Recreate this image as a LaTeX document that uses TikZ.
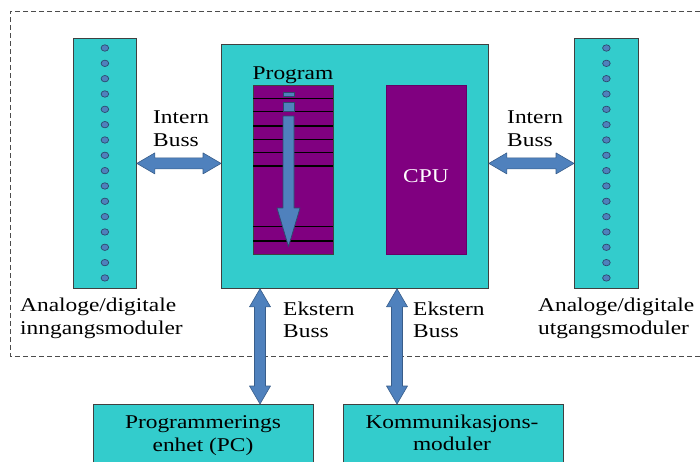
\documentclass[tikz,border=0pt]{standalone}
\usepackage{fontspec}
\setmainfont{Liberation Serif}[FakeStretch=1.2]
\usetikzlibrary{calc}
\definecolor{modcyan}{HTML}{33CCCC}
\definecolor{progpurple}{HTML}{800080}
\definecolor{busblue}{HTML}{4F81BD}
\definecolor{busedge}{HTML}{385D8A}

\begin{document}
\begin{tikzpicture}[x=1pt, y=-1pt,
    box/.style={draw=black!75, line width=0.8pt, fill=modcyan, inner sep=0pt, anchor=north west},
    txt/.style={inner sep=0pt, font=\fontsize{19.5}{22.5}\selectfont},
    iodot/.style={draw=busedge!80!black, fill=busblue, line width=0.7pt},
    busarrow/.style={draw=busedge, fill=busblue, line width=0.6pt, line join=round,
        to path={
            ($(\tikztostart)!18pt!(\tikztotarget)$) coordinate (ha)
            ($(\tikztotarget)!18pt!(\tikztostart)$) coordinate (hb)
            (\tikztostart) -- ($(ha)!10.5pt!90:(hb)$) -- ($(ha)!5.5pt!90:(hb)$)
            -- ($(hb)!5.5pt!-90:(ha)$) -- ($(hb)!10.5pt!-90:(ha)$)
            -- (\tikztotarget) -- ($(hb)!10.5pt!90:(ha)$) -- ($(hb)!5.5pt!90:(ha)$)
            -- ($(ha)!5.5pt!-90:(hb)$) -- ($(ha)!10.5pt!-90:(hb)$) -- cycle}}]
    \useasboundingbox (0,0) rectangle (700,461);
    \clip (0,0) rectangle (700,461);

    \draw[black!70, line width=0.8pt, dash pattern=on 5pt off 3pt] (700,11) -- (10,11) -- (10,356) -- (700,356);

    % I/O modules
    \node[box, minimum width=63pt, minimum height=250pt] (inn) at (73,38) {};
    \node[box, minimum width=64pt, minimum height=250pt] (utg) at (574,38) {};
    \foreach \i in {0,...,15} {
        \draw[iodot] (inn.north |- 0,48+15.33*\i) ellipse (3.8pt and 3.2pt);
        \draw[iodot] (utg.north |- 0,48+15.33*\i) ellipse (3.8pt and 3.2pt);
    }

    % PLC with program memory and CPU
    \node[box, minimum width=267pt, minimum height=244pt] (main) at (221,44) {};
    \node[box, fill=progpurple, minimum width=80pt, minimum height=169pt] (prg) at (253,85) {};
    \node[box, fill=progpurple, draw=progpurple!80!black, minimum width=80pt, minimum height=169pt] (cpu) at (386,85) {};
    \foreach \y in {98.5,111.5,126,139.5,152.5,166,226.5,241}
        \draw[black, line width=1.1pt] (253,\y) -- (333,\y);
    \draw[iodot] (283,92) rectangle (294,96);
    \draw[iodot] (283,102) rectangle (294,111);
    \draw[iodot, line join=round] (283,116) -- (294,116) -- (294,208) -- (300,208) -- (288.5,246.5) -- (277,208) -- (283,208) -- cycle;
    \node[txt, anchor=base] (prgl) at (293,79.5) {Program};
    \node[txt, anchor=base, text=white] (cpul) at (426,182) {CPU};

    % external units
    \node[box, minimum width=220pt, minimum height=70pt] (prog) at (93,404) {};
    \node[box, minimum width=220pt, minimum height=70pt] (komm) at (343,404) {};
    \node[txt, anchor=north, align=center] (progl) at (203,415.5) {Programmerings\\enhet (PC)};
    \node[txt, anchor=north, align=center] (komml) at (452,414.5) {Kommunikasjons-\\moduler};

    % buses
    \draw[busarrow] (inn.east) to (inn.east -| main.west);
    \draw[busarrow] (utg.west -| main.east) to (utg.west);
    \coordinate (e1) at ([xshift=39pt]main.south west);
    \coordinate (e2) at ([xshift=176pt]main.south west);
    \draw[busarrow] (e1) to (e1 |- prog.north);
    \draw[busarrow] (e2) to (e2 |- komm.north);

    \node[txt, anchor=north west, align=left] (ib1) at (153,111) {Intern\\Buss};
    \node[txt, anchor=north west, align=left] (ib2) at (507,111) {Intern\\Buss};
    \node[txt, anchor=north west, align=left] (eb1) at (283,301.5) {Ekstern\\Buss};
    \node[txt, anchor=north west, align=left] (eb2) at (413,301.5) {Ekstern\\Buss};
    \node[txt, anchor=north west, align=left] (innl) at (20,298) {Analoge/digitale\\inngangsmoduler};
    \node[txt, anchor=north west, align=left] (utgl) at (538,298) {Analoge/digitale\\utgangsmoduler};
\end{tikzpicture}
\end{document}
